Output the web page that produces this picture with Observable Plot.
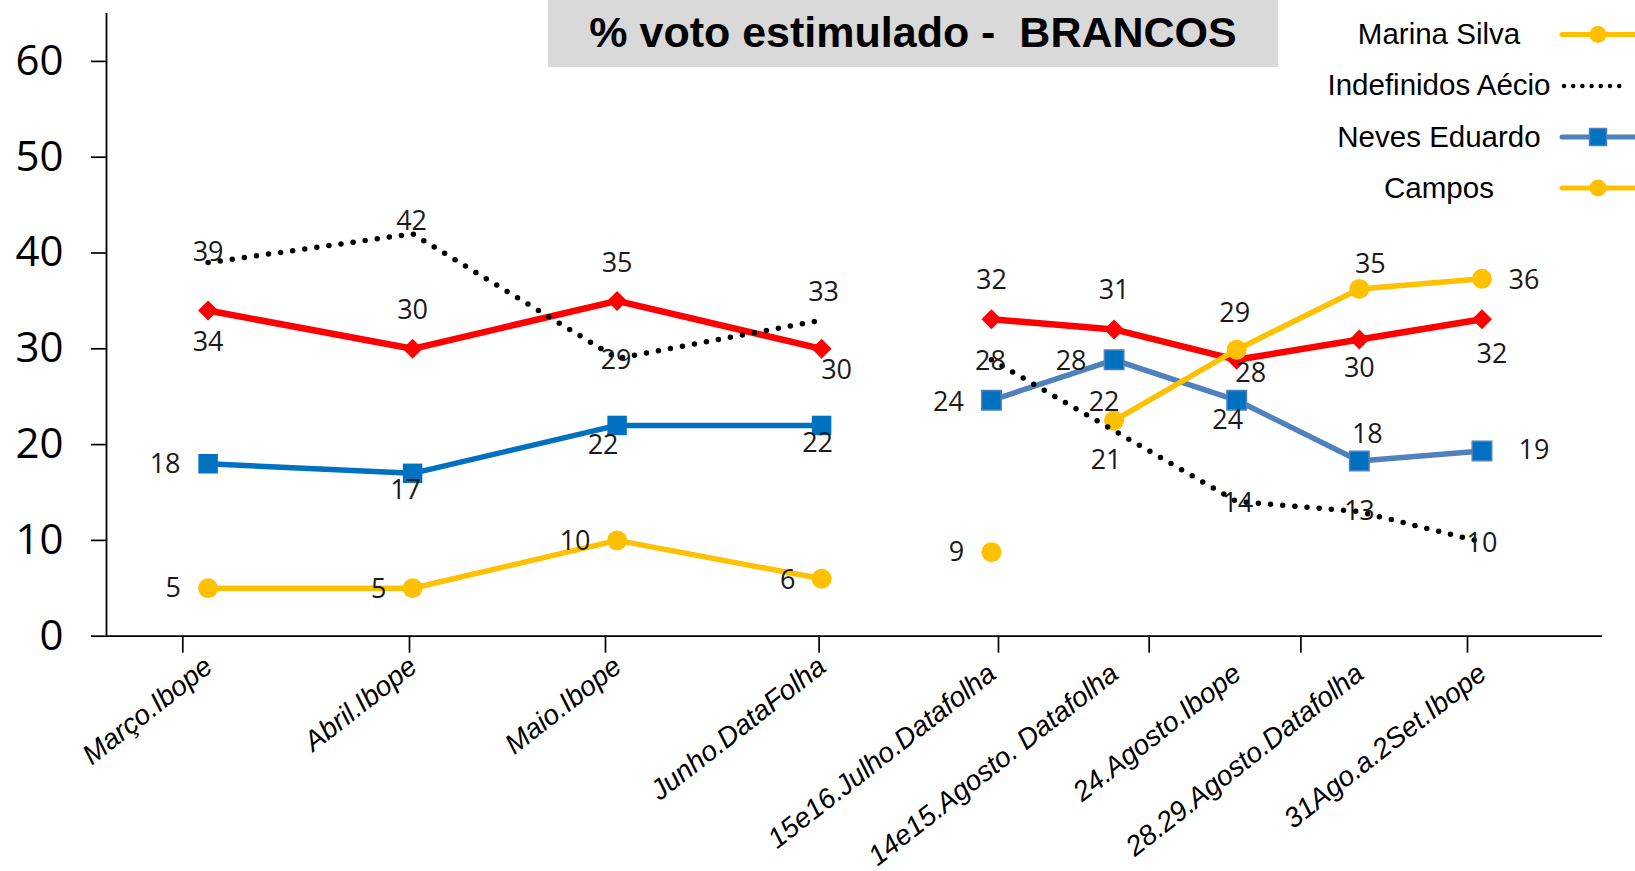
<!DOCTYPE html>
<html>
<head>
<meta charset="utf-8">
<script src="https://cdn.jsdelivr.net/npm/d3@7"></script>
<script src="https://cdn.jsdelivr.net/npm/@observablehq/plot@0.6"></script>
<style>
  html, body { margin: 0; padding: 0; background: #fff; overflow: hidden; }
  #wrap { position: relative; width: 1635px; height: 871px; }
  #wrap > svg, #wrap > figure { position: absolute; left: 0; top: 0; margin: 0; }
  #title { position: absolute; left: 548px; top: 0; width: 730px; height: 67px; background: #D9D9D9;
    font: bold 43px "Liberation Sans", Arial, sans-serif; line-height: 65px; text-align: center;
    white-space: pre; color: #000; }
  .legtxt { position: absolute; left: 1239px; width: 400px; height: 40px; line-height: 40px; text-align: center;
    font: 29.5px "Liberation Sans", Arial, sans-serif; color: #000; white-space: pre; }
  #legsym { position: absolute; left: 0; top: 0; }
</style>
</head>
<body>
<div id="wrap"></div>
<script>
// ---------- data ----------
const categories = ["Março.Ibope", "Abril.Ibope", "Maio.Ibope", "Junho.DataFolha",
  "15e16.Julho.Datafolha", "14e15.Agosto. Datafolha", "24.Agosto.Ibope",
  "28.29.Agosto.Datafolha", "31Ago.a.2Set.Ibope"];
const serieVermelha = [34, 30, 35, 30, 32, 31, 28, 30, 32];
const nevesEduardo = [18, 17, 22, 22, 24, 28, 24, 18, 19];
const campos = [5, 5, 10, 6, 9, null, null, null, null];
const marinaSilva = [null, null, null, null, null, 22, 29, 35, 36];
const indefinidosAecio = [39, 42, 29, 33, 28, 21, 14, 13, 10];
const yTicks = [0, 10, 20, 30, 40, 50, 60];
const legendNames = ["Marina Silva", "Indefinidos Aécio", "Neves Eduardo", "Campos"];
const titleText = "% voto estimulado -  BRANCOS";

// ---------- layout (not data) ----------
const xTickSlots = [-0.1237, 0.9848, 1.9433, 2.9878, 3.865, 4.6019, 5.3438, 6.1584];
const redOff = [[0,32],[0,-38],[0,-38],[15,22],[0,-39],[0,-39],[14,14],[0,29],[10,35]];
const blueOff = [[-43,1],[-7,17],[-14,20],[-4,18],[-43,2],[-43,2],[-9,20],[8,-27],[52,-1]];
const yellowOff = [[-35,0],[-34,1],[-42,1],[-34,2],[-35,0],[-10,-18],[-2,-36],[11,-25],[42,2]];
const dottedOff = [[0,-10],[-1,-12],[-1,2],[2,-28],[-1,2],[-8,30],[1,2],[0,0],[0,1]];

const RED = "#FF0000", BLUE = "#0070C0", STEEL = "#4F81BD", YELLOW = "#FFC000";
const NUMFONT = "Open Sans, DejaVu Sans, sans-serif";
const LABFONT = "Liberation Sans, Arial, sans-serif";

const rows = categories.map((label, i) => ({
  i, label,
  red: serieVermelha[i], blue: nevesEduardo[i],
  campos: campos[i], marina: marinaSilva[i], dotted: indefinidosAecio[i]
}));
const part1 = rows.filter(d => d.i <= 3);
const part2 = rows.filter(d => d.i >= 4);

function valueLabels(part, key, off) {
  return part.filter(d => d[key] != null).map(d => Plot.text([d], {
    x: "i", y: key, text: dd => String(dd[key]),
    dx: off[d.i][0], dy: off[d.i][1],
    fontSize: 27, fontFamily: NUMFONT, fill: "#1a1a1a", textAnchor: "middle", lineAnchor: "middle"
  }));
}

function seriesMarks(part, blueLine, blueMarkStroke) {
  return [
    Plot.line(part, {x: "i", y: "red", stroke: RED, strokeWidth: 6.5, strokeLinejoin: "round"}),
    Plot.dot(part, {x: "i", y: "red", symbol: "diamond2", r: 9, fill: RED}),
    Plot.line(part, {x: "i", y: "blue", stroke: blueLine, strokeWidth: 5.5, strokeLinejoin: "round"}),
    Plot.dot(part, {x: "i", y: "blue", symbol: "square", r: 11, fill: BLUE,
      stroke: blueMarkStroke, strokeWidth: blueMarkStroke === "none" ? 0 : 1.5}),
    Plot.line(part, {x: "i", y: "campos", stroke: YELLOW, strokeWidth: 5.5}),
    Plot.dot(part.filter(d => d.campos != null), {x: "i", y: "campos", r: 10, fill: YELLOW}),
    Plot.line(part, {x: "i", y: "marina", stroke: YELLOW, strokeWidth: 5.5}),
    Plot.dot(part.filter(d => d.marina != null), {x: "i", y: "marina", r: 10, fill: YELLOW}),
    Plot.line(part, {x: "i", y: "dotted", stroke: "#000", strokeWidth: 5.5,
      strokeDasharray: "0 12.2", strokeLinecap: "round"}),
    ...valueLabels(part, "red", redOff),
    ...valueLabels(part, "blue", blueOff),
    ...valueLabels(part, "campos", yellowOff),
    ...valueLabels(part, "marina", yellowOff),
    ...valueLabels(part, "dotted", dottedOff)
  ];
}

function xLabels(part) {
  return Plot.text(part, {
    x: "i", text: "label", frameAnchor: "bottom", dx: -6, dy: 18, rotate: -38,
    textAnchor: "end", lineAnchor: "top", fontSize: 28, fontStyle: "italic",
    fontFamily: LABFONT, fill: "#000"
  });
}

// chart 1 (first four polls) with the axes
const chart1 = Plot.plot({
  width: 1635, height: 871,
  marginLeft: 106, marginRight: 33, marginTop: 13, marginBottom: 235.3,
  x: {domain: [-0.4968, 6.8186], axis: null, label: null},
  y: {domain: [0, 65], axis: null, label: null},
  style: {background: "transparent", overflow: "visible"},
  marks: [
    Plot.axisY({ticks: yTicks, tickSize: 15, tickPadding: 28, fontSize: 42, fontFamily: NUMFONT,
      strokeWidth: 1.7, label: null, tickFormat: d => String(d), fill: "#000"}),
    Plot.axisX({ticks: xTickSlots, tickSize: 17, tickFormat: () => "", strokeWidth: 1.7, label: null}),
    Plot.ruleY([0], {stroke: "#000", strokeWidth: 1.8}),
    Plot.ruleX([-0.4968], {stroke: "#000", strokeWidth: 1.8}),
    ...seriesMarks(part1, BLUE, "none"),
    xLabels(part1)
  ]
});

// chart 2 (last five polls), its own vertical scale
const chart2 = Plot.plot({
  width: 1635, height: 871,
  marginLeft: 106, marginRight: 33, marginTop: 13, marginBottom: 228.2,
  x: {domain: [-3.217, 8.983], axis: null, label: null},
  y: {domain: [0, 62.2], axis: null, label: null},
  style: {background: "transparent", overflow: "visible"},
  marks: [
    ...seriesMarks(part2, STEEL, STEEL),
    xLabels(part2)
  ]
});

const wrap = document.getElementById("wrap");
wrap.appendChild(chart1);
wrap.appendChild(chart2);

// title
const t = document.createElement("div");
t.id = "title";
t.textContent = titleText;
wrap.appendChild(t);

// legend
const legendY = [37, 88, 139.5, 190.5];
const legendSym = [
  {stroke: YELLOW, dash: null, mark: "circle"},
  {stroke: "#000", dash: "0 9.2", mark: null},
  {stroke: STEEL, dash: null, mark: "square"},
  {stroke: YELLOW, dash: null, mark: "circle"}
];
const symY = [34.5, 86, 137, 188];
const NS = "http://www.w3.org/2000/svg";
const ls = document.createElementNS(NS, "svg");
ls.setAttribute("id", "legsym");
ls.setAttribute("width", 1635);
ls.setAttribute("height", 240);
legendNames.forEach((name, k) => {
  const d = document.createElement("div");
  d.className = "legtxt";
  d.style.top = (legendY[k] - 20) + "px";
  d.textContent = name;
  wrap.appendChild(d);
  const s = legendSym[k];
  const cy = symY[k];
  const ln = document.createElementNS(NS, "line");
  ln.setAttribute("x1", s.dash ? 1564 : 1562);
  ln.setAttribute("x2", s.dash ? 1625 : 1635);
  ln.setAttribute("y1", cy); ln.setAttribute("y2", cy);
  ln.setAttribute("stroke", s.stroke);
  ln.setAttribute("stroke-width", s.dash ? 4.5 : 5);
  ln.setAttribute("stroke-linecap", "round");
  if (s.dash) ln.setAttribute("stroke-dasharray", s.dash);
  ls.appendChild(ln);
  if (s.mark === "circle") {
    const c = document.createElementNS(NS, "circle");
    c.setAttribute("cx", 1598); c.setAttribute("cy", cy); c.setAttribute("r", 8.5);
    c.setAttribute("fill", YELLOW);
    ls.appendChild(c);
  } else if (s.mark === "square") {
    const r = document.createElementNS(NS, "rect");
    r.setAttribute("x", 1589.5); r.setAttribute("y", cy - 8.5);
    r.setAttribute("width", 17); r.setAttribute("height", 17);
    r.setAttribute("fill", BLUE); r.setAttribute("stroke", STEEL); r.setAttribute("stroke-width", 1.5);
    ls.appendChild(r);
  }
});
wrap.appendChild(ls);
</script>
</body>
</html>
